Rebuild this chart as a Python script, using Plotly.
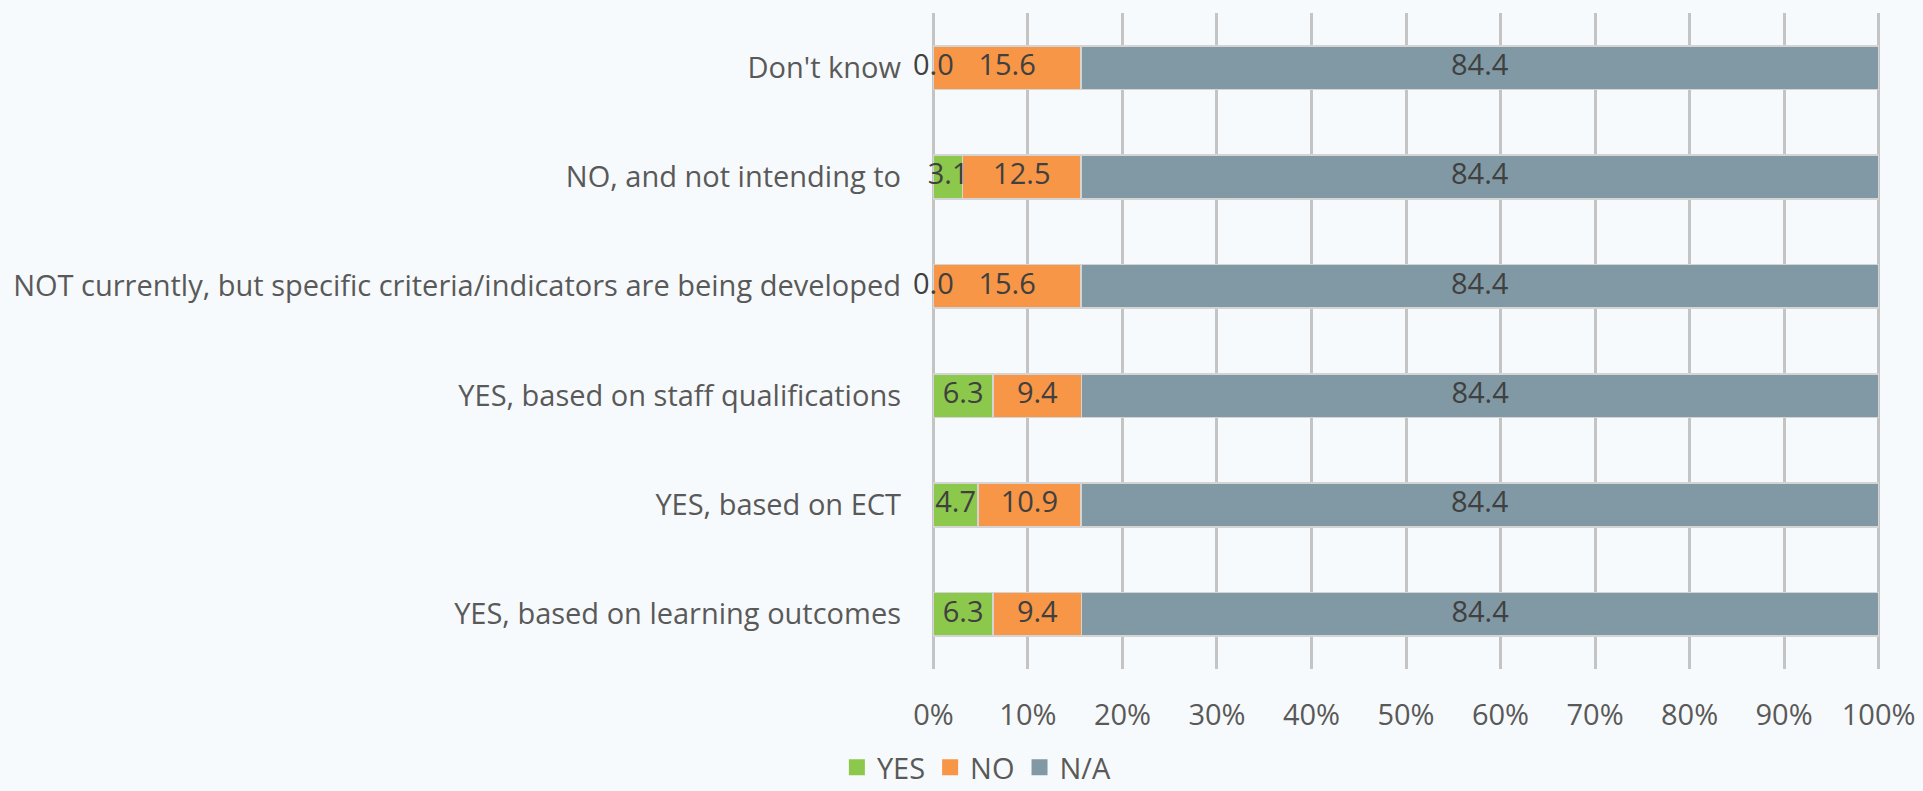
import plotly.graph_objects as go

categories = [
    "Don't know",
    "NO, and not intending to",
    "NOT currently, but specific criteria/indicators are being developed",
    "YES, based on staff qualifications",
    "YES, based on ECT",
    "YES, based on learning outcomes",
]
yes_vals = [0.0, 3.1, 0.0, 6.3, 4.7, 6.3]
no_vals = [15.6, 12.5, 15.6, 9.4, 10.9, 9.4]
na_vals = [84.4, 84.4, 84.4, 84.4, 84.4, 84.4]
series_names = ["YES", "NO", "N/A"]
colors = ["#8CC84B", "#F79646", "#8199A4"]
x_ticks = [0, 10, 20, 30, 40, 50, 60, 70, 80, 90, 100]
x_tick_labels = [f"{t}%" for t in x_ticks]

FONT = "Open Sans"
FS = 29
series = [yes_vals, no_vals, na_vals]

fig = go.Figure()
for name, vals, col in zip(series_names, series, colors):
    fig.add_trace(go.Bar(
        name=name, y=categories, x=vals, orientation="h",
        marker=dict(color=col, line=dict(color="#D4D4D4", width=1.5)),
        hoverinfo="skip", showlegend=False,
    ))

# legend entries with square swatches
for name, col in zip(series_names, colors):
    fig.add_trace(go.Scatter(
        name=name, x=[None], y=[None], mode="markers",
        marker=dict(symbol="square", size=18, color=col),
        showlegend=True, hoverinfo="skip",
    ))

# data labels centred on each normalised segment
lx, ly, lt = [], [], []
for i, cat in enumerate(categories):
    total = sum(s[i] for s in series)
    cum = 0.0
    for s in series:
        v = s[i] / total * 100
        lx.append(cum + v / 2)
        ly.append(cat)
        lt.append(f"{s[i]:.1f}")
        cum += v
fig.add_trace(go.Scatter(
    x=lx, y=ly, text=lt, mode="text", showlegend=False, hoverinfo="skip",
    cliponaxis=False,
    textfont=dict(family=FONT, size=FS, color="#404040"),
))

fig.update_layout(
    barmode="stack", barnorm="percent", bargap=0.6,
    width=1923, height=791,
    paper_bgcolor="#F7FAFC", plot_bgcolor="#F7FAFC",
    margin=dict(l=932, r=43, t=13, b=122, autoexpand=False),
    font=dict(family=FONT, size=FS, color="#595959"),
    showlegend=True,
    legend=dict(orientation="h", x=0.508, xref="container", xanchor="center",
                y=-0.15, yref="paper", yanchor="middle",
                font=dict(family=FONT, size=FS, color="#595959"),
                traceorder="normal", itemsizing="trace", itemwidth=30,
                bgcolor="rgba(0,0,0,0)"),
    xaxis=dict(range=[-0.15, 100.15], tickvals=x_ticks, ticktext=x_tick_labels,
               showgrid=True, gridcolor="#C4C4C4", gridwidth=2.5,
               zeroline=False, showline=False, ticks="",
               ticklabelstandoff=26, fixedrange=True),
    yaxis=dict(autorange="reversed", showgrid=False, zeroline=False,
               showline=False, ticks="", ticklabelstandoff=30,
               fixedrange=True),
)
fig.write_html("out.html", config={"displayModeBar": False},
               post_script="document.body.style.margin='0';")
